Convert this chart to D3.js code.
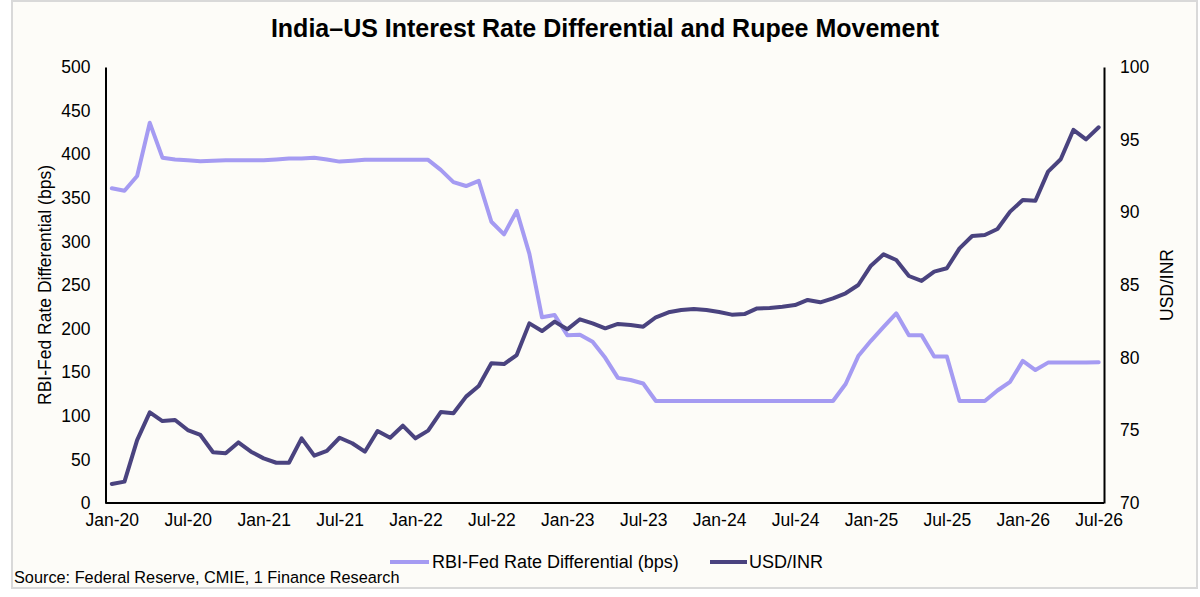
<!DOCTYPE html>
<html>
<head>
<meta charset="utf-8">
<script src="https://cdn.jsdelivr.net/npm/d3@7/dist/d3.min.js"></script>
<style>
  html, body { margin: 0; padding: 0; background: #ffffff; }
  svg { display: block; font-family: "Liberation Sans", Arial, sans-serif; }
</style>
</head>
<body>
<svg id="chart" width="1200" height="597"></svg>
<script>
// ---- Data ----
const startMonth = new Date(2020, 0, 1);
const monthCount = 79; // Jan-20 .. Jul-26
const fmt = d3.timeFormat("%b-%y");
const categories = d3.range(monthCount).map(i => fmt(d3.timeMonth.offset(startMonth, i)));

const rateDifferential = [
  361, 358, 375, 436, 396, 394, 393, 392, 392.5, 393,
  393, 393, 393, 394, 395, 395, 396, 394, 391.5, 392.5,
  393.5, 393.5, 393.5, 393.5, 393.5, 393.5, 382, 368, 363.5, 369.5,
  322.5, 308, 335, 286, 213, 215.5, 192.5, 193, 185, 166.5,
  143.5, 141, 137, 117, 117, 117, 117, 117, 117, 117,
  117, 117, 117, 117, 117, 117, 117, 117, 136.5, 168.5,
  186, 202, 217.5, 192.5, 192.5, 168, 168, 117, 117, 117,
  129, 139, 163, 152.5, 161, 161, 161, 161, 161.5
];

const usdInr = [
  71.31, 71.47, 74.33, 76.24, 75.64, 75.71, 75.02, 74.68, 73.49, 73.42,
  74.17, 73.53, 73.07, 72.77, 72.77, 74.45, 73.26, 73.58, 74.49, 74.11,
  73.53, 74.95, 74.49, 75.32, 74.45, 74.98, 76.26, 76.17, 77.32, 78.05,
  79.61, 79.56, 80.18, 82.36, 81.83, 82.48, 81.95, 82.64, 82.36, 82.02,
  82.32, 82.25, 82.13, 82.78, 83.12, 83.28, 83.35, 83.28, 83.14, 82.96,
  83.00, 83.39, 83.42, 83.51, 83.62, 83.97, 83.81, 84.08, 84.43, 85.00,
  86.33, 87.11, 86.72, 85.62, 85.28, 85.92, 86.15, 87.52, 88.37, 88.44,
  88.85, 90.05, 90.85, 90.80, 92.80, 93.65, 95.67, 95.02, 95.85
];

const xTickLabels = ["Jan-20","Jul-20","Jan-21","Jul-21","Jan-22","Jul-22","Jan-23",
                     "Jul-23","Jan-24","Jul-24","Jan-25","Jul-25","Jan-26","Jul-26"];
const leftTicks = [0, 50, 100, 150, 200, 250, 300, 350, 400, 450, 500];
const rightTicks = [70, 75, 80, 85, 90, 95, 100];

const seriesNames = ["RBI-Fed Rate Differential (bps)", "USD/INR"];
const colors = ["#a59bf2", "#4a437f"];

// ---- Layout ----
const svg = d3.select("#chart");
const plot = { left: 105.5, right: 1105, top: 67, bottom: 503 };

svg.append("rect")
  .attr("x", 12).attr("y", 1).attr("width", 1185).attr("height", 587)
  .attr("fill", "#fdfcf8").attr("stroke", "#d9d9d9").attr("stroke-width", 2);

const x = d3.scalePoint().domain(categories).range([plot.left, plot.right]).padding(0.5);
const yL = d3.scaleLinear().domain([0, 500]).range([plot.bottom, plot.top]);
const yR = d3.scaleLinear().domain([70, 100]).range([plot.bottom, plot.top]);

// Title
svg.append("text")
  .attr("x", 605).attr("y", 37)
  .attr("text-anchor", "middle")
  .attr("font-size", 25).attr("font-weight", "bold").attr("fill", "#000")
  .text("India\u2013US Interest Rate Differential and Rupee Movement");

// Axes
const tickFont = 17.5;
const axL = svg.append("g").attr("transform", `translate(${plot.left},0)`)
  .call(d3.axisLeft(yL).tickValues(leftTicks).tickSize(0).tickPadding(15));
const axR = svg.append("g").attr("transform", `translate(${plot.right - 1},0)`)
  .call(d3.axisRight(yR).tickValues(rightTicks).tickSize(0).tickPadding(16));
const axB = svg.append("g").attr("transform", `translate(0,${plot.bottom})`)
  .call(d3.axisBottom(x).tickValues(xTickLabels).tickSize(0).tickPadding(11));

[axL, axR, axB].forEach(g => {
  g.select(".domain").attr("stroke", "#000").attr("stroke-width", 2);
  g.selectAll("text").attr("font-size", tickFont).attr("fill", "#000")
    .attr("font-family", "Liberation Sans, Arial, sans-serif");
});
axB.select(".domain").attr("d", `M${plot.left},0H${plot.right - 1}`);

// Axis titles
svg.append("text")
  .attr("transform", `translate(45,${(plot.top + plot.bottom) / 2}) rotate(-90)`)
  .attr("text-anchor", "middle").attr("dy", "0.35em")
  .attr("font-size", 17.5).attr("fill", "#000")
  .text("RBI-Fed Rate Differential (bps)");
svg.append("text")
  .attr("transform", `translate(1167,${(plot.top + plot.bottom) / 2}) rotate(-90)`)
  .attr("text-anchor", "middle").attr("dy", "0.35em")
  .attr("font-size", 17.5).attr("fill", "#000")
  .text("USD/INR");

// Lines
const lineL = d3.line().x((d, i) => x(categories[i])).y(d => yL(d));
const lineR = d3.line().x((d, i) => x(categories[i])).y(d => yR(d));

svg.append("path").datum(rateDifferential)
  .attr("d", lineL).attr("fill", "none").attr("stroke", colors[0])
  .attr("stroke-width", 4).attr("stroke-linejoin", "round").attr("stroke-linecap", "round");
svg.append("path").datum(usdInr)
  .attr("d", lineR).attr("fill", "none").attr("stroke", colors[1])
  .attr("stroke-width", 4).attr("stroke-linejoin", "round").attr("stroke-linecap", "round");

// Legend
const legendItems = [
  { x1: 390, x2: 429, tx: 432 },
  { x1: 710, x2: 747, tx: 749 }
];
legendItems.forEach((it, k) => {
  svg.append("line").attr("x1", it.x1).attr("x2", it.x2).attr("y1", 562).attr("y2", 562)
    .attr("stroke", colors[k]).attr("stroke-width", 4);
  svg.append("text").attr("x", it.tx).attr("y", 568)
    .attr("font-size", 18).attr("fill", "#000").text(seriesNames[k]);
});

// Source
svg.append("text").attr("x", 14).attr("y", 583)
  .attr("font-size", 16.3).attr("fill", "#000")
  .text("Source: Federal Reserve, CMIE, 1 Finance Research");
</script>
</body>
</html>
